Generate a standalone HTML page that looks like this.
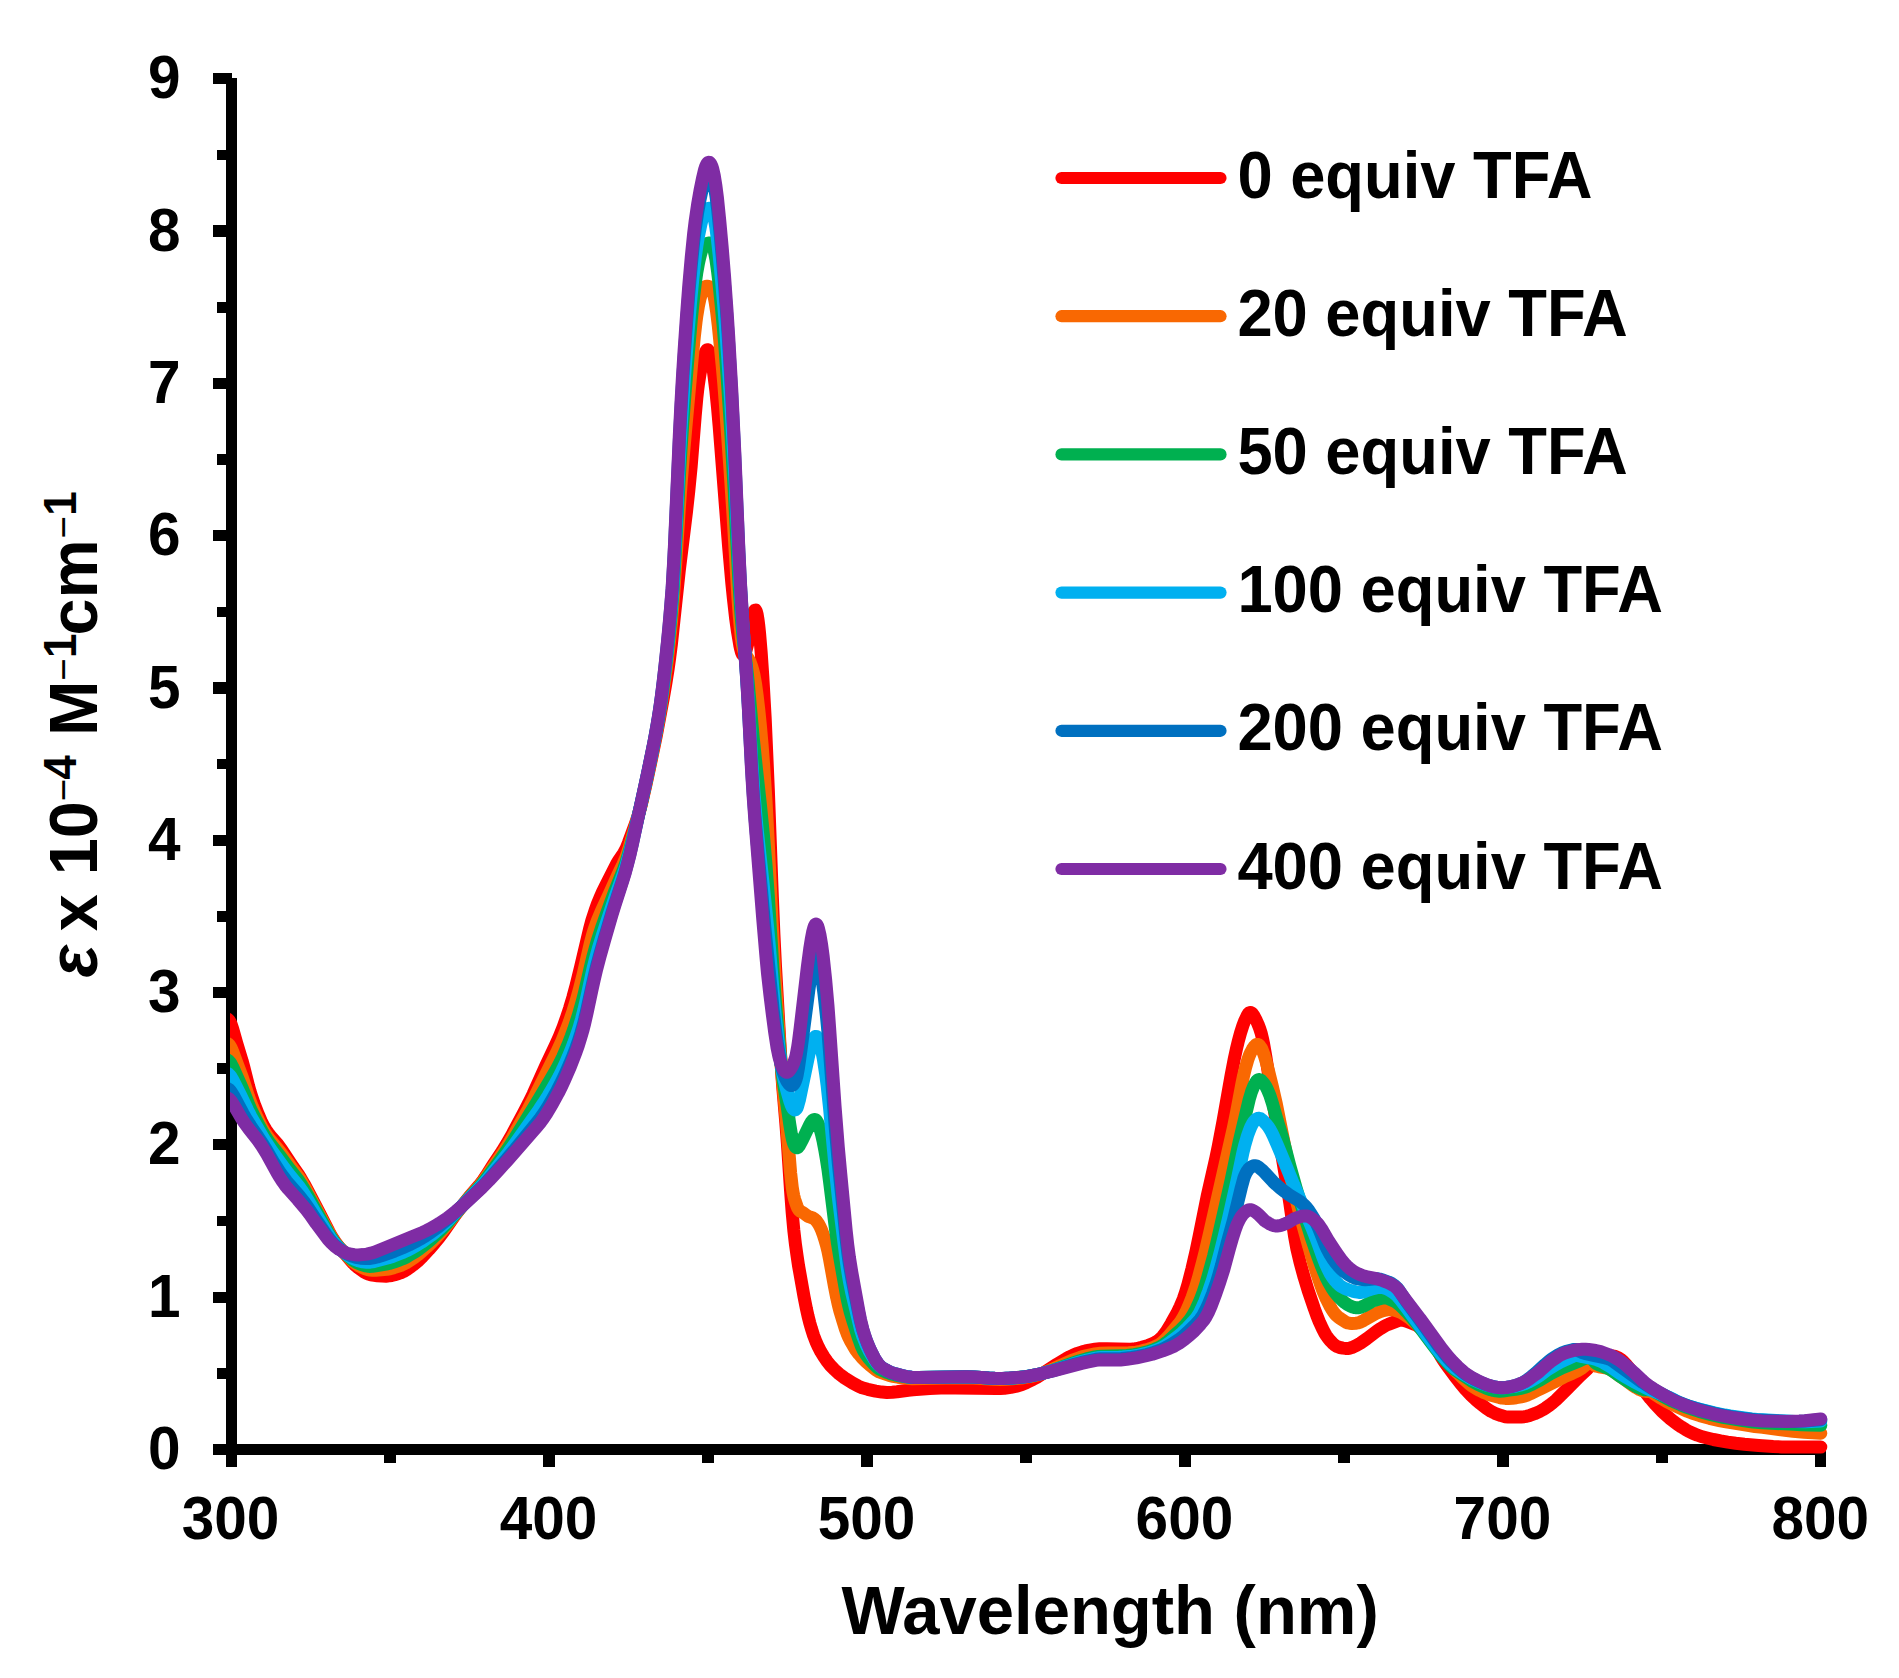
<!DOCTYPE html>
<html lang="en"><head><meta charset="utf-8"><title>UV-vis titration with TFA</title>
<style>html,body{margin:0;padding:0;background:#fff}svg{display:block}text{font-family:"Liberation Sans",sans-serif;font-weight:bold;fill:#000}</style></head><body>
<svg width="1899" height="1678" viewBox="0 0 1899 1678">
<rect width="1899" height="1678" fill="#fff"/>
<g fill="#000" shape-rendering="crispEdges">
<rect x="226" y="78" width="10.6" height="1389"/>
<rect x="212.8" y="1444" width="1613.5" height="10.8"/>
<rect x="216.8" y="1368.0" width="10" height="10.6"/>
<rect x="212.8" y="1291.5" width="19" height="11.2"/>
<rect x="216.8" y="1215.7" width="10" height="10.6"/>
<rect x="212.8" y="1139.2" width="19" height="11.2"/>
<rect x="216.8" y="1063.4" width="10" height="10.6"/>
<rect x="212.8" y="986.9" width="19" height="11.2"/>
<rect x="216.8" y="911.1" width="10" height="10.6"/>
<rect x="212.8" y="834.6" width="19" height="11.2"/>
<rect x="216.8" y="758.8" width="10" height="10.6"/>
<rect x="212.8" y="682.3" width="19" height="11.2"/>
<rect x="216.8" y="606.5" width="10" height="10.6"/>
<rect x="212.8" y="530.0" width="19" height="11.2"/>
<rect x="216.8" y="454.2" width="10" height="10.6"/>
<rect x="212.8" y="377.7" width="19" height="11.2"/>
<rect x="216.8" y="301.9" width="10" height="10.6"/>
<rect x="212.8" y="225.4" width="19" height="11.2"/>
<rect x="216.8" y="149.5" width="10" height="10.6"/>
<rect x="212.8" y="73.1" width="19" height="11.2"/>
<rect x="384.2" y="1450" width="11.6" height="12.6"/>
<rect x="543.2" y="1450" width="11.4" height="17"/>
<rect x="702.1" y="1450" width="11.6" height="12.6"/>
<rect x="861.2" y="1450" width="11.4" height="17"/>
<rect x="1020.1" y="1450" width="11.6" height="12.6"/>
<rect x="1179.1" y="1450" width="11.4" height="17"/>
<rect x="1338.0" y="1450" width="11.6" height="12.6"/>
<rect x="1497.1" y="1450" width="11.4" height="17"/>
<rect x="1656.0" y="1450" width="11.6" height="12.6"/>
<rect x="1815.0" y="1450" width="11.4" height="17"/>
</g>
<defs><clipPath id="plotclip"><rect x="230" y="0" width="1669" height="1678"/></clipPath></defs>
<g clip-path="url(#plotclip)" fill="none" stroke-width="13" stroke-linecap="round" stroke-linejoin="round">
<path d="M227.8,1019.1 228.6,1019.8 229.4,1020.8 230.2,1022.1 231.0,1023.9 232.6,1028.6 236.6,1042.7 242.1,1060.8 243.7,1066.7 248.5,1085.8 250.1,1091.5 251.7,1096.5 254.8,1105.5 258.0,1113.6 261.2,1121.0 263.6,1125.9 266.0,1129.9 268.4,1133.3 270.7,1136.2 277.1,1143.5 281.1,1148.8 292.2,1165.5 298.6,1174.7 300.9,1178.4 304.1,1183.9 308.1,1191.3 319.2,1212.6 328.8,1231.3 331.9,1237.0 335.1,1241.9 336.7,1244.1 339.1,1247.1 344.7,1253.3 351.0,1260.9 353.4,1263.5 355.0,1265.1 357.4,1267.2 360.6,1269.5 363.7,1271.7 366.1,1273.0 368.5,1274.1 370.1,1274.6 372.5,1275.1 377.3,1275.7 382.0,1276.1 386.0,1276.2 389.2,1275.9 391.6,1275.5 394.7,1274.7 398.7,1273.5 401.9,1272.3 404.3,1271.1 406.7,1269.7 409.8,1267.5 413.0,1265.1 417.8,1261.2 421.8,1257.4 428.9,1249.7 434.5,1243.2 439.3,1237.3 444.0,1231.1 455.9,1214.1 462.3,1205.6 469.5,1196.6 479.0,1185.6 483.0,1180.4 486.2,1175.7 493.3,1164.6 502.1,1151.4 506.8,1143.7 512.4,1133.9 523.5,1113.0 528.3,1103.8 533.1,1094.0 545.8,1065.6 555.3,1045.5 559.3,1036.6 563.3,1026.6 566.4,1017.8 569.6,1008.2 572.8,997.5 576.0,985.6 580.7,966.5 589.5,929.2 591.9,920.3 595.1,910.4 597.4,904.0 599.8,898.1 602.2,892.7 605.4,886.1 616.5,864.1 618.9,860.1 623.7,853.1 626.1,848.6 628.4,842.8 635.6,823.2 638.0,816.2 640.4,808.1 642.7,798.8 645.9,784.9 652.3,755.0 656.3,735.6 659.4,719.1 663.4,697.5 665.8,683.7 668.2,668.4 669.8,656.9 671.4,644.2 679.3,570.3 686.5,511.6 688.8,490.8 691.2,466.2 695.2,415.9 696.8,398.1 697.6,390.7 698.4,384.4 700.0,374.1 700.8,369.9 702.4,362.7 704.0,356.7 705.5,352.0 706.3,350.5 707.1,349.7 707.9,349.8 708.7,350.8 709.5,352.7 710.3,355.3 711.9,362.4 713.5,372.0 715.9,391.3 717.5,407.3 719.1,425.5 728.6,546.5 731.8,582.9 733.4,598.6 735.7,618.9 737.3,630.4 739.7,644.8 740.5,648.6 741.3,651.7 742.1,653.9 742.9,655.0 743.7,655.0 744.5,654.1 745.3,652.5 746.1,650.1 747.7,643.8 752.4,617.4 753.2,614.1 754.0,611.6 754.8,610.2 755.6,610.1 756.4,611.6 757.2,614.7 758.0,619.5 758.8,625.8 759.6,633.6 761.2,652.9 762.8,676.1 765.2,718.7 768.3,789.0 772.3,895.9 773.9,934.0 775.5,966.3 780.3,1050.4 781.1,1063.2 782.6,1085.3 785.8,1122.8 787.4,1143.6 790.6,1191.2 792.2,1212.8 793.8,1230.2 795.4,1243.9 797.0,1255.4 798.5,1265.5 804.1,1297.1 806.5,1309.2 808.1,1316.4 809.7,1322.7 811.3,1328.3 813.6,1335.5 816.0,1341.8 818.4,1347.1 820.8,1351.7 824.0,1356.9 827.2,1361.5 830.3,1365.4 834.3,1369.5 839.1,1373.8 844.6,1378.0 852.6,1383.1 858.2,1386.1 862.1,1387.8 867.7,1389.3 875.6,1391.1 882.0,1392.1 886.8,1392.4 892.3,1392.3 897.1,1391.8 908.2,1390.2 913.0,1389.7 929.7,1388.5 940.8,1388.0 955.1,1387.9 996.5,1388.5 1000.4,1388.4 1004.4,1388.2 1010.8,1387.3 1017.9,1385.9 1021.9,1384.6 1026.7,1382.5 1033.0,1379.4 1037.0,1377.2 1056.9,1364.2 1066.4,1358.5 1069.6,1356.8 1072.8,1355.3 1077.5,1353.4 1082.3,1351.8 1085.5,1350.9 1089.5,1350.1 1095.0,1349.3 1099.8,1348.8 1107.0,1348.8 1130.0,1349.2 1133.2,1349.1 1135.6,1348.8 1138.7,1348.1 1141.9,1347.3 1147.5,1345.6 1150.7,1344.5 1153.1,1343.4 1155.4,1342.2 1157.8,1340.8 1159.4,1339.6 1161.0,1338.1 1162.6,1336.4 1164.2,1334.4 1166.6,1331.1 1171.3,1323.3 1176.9,1313.3 1180.1,1306.6 1183.3,1298.9 1185.6,1292.2 1188.0,1284.2 1192.0,1268.5 1196.0,1251.1 1199.2,1235.9 1207.1,1196.4 1215.9,1157.8 1218.2,1146.6 1223.0,1121.3 1231.0,1076.0 1234.1,1059.7 1236.5,1048.6 1238.1,1041.9 1240.5,1033.0 1242.9,1025.5 1244.5,1021.3 1246.9,1016.2 1248.4,1013.7 1249.2,1012.9 1250.0,1012.5 1250.8,1012.5 1251.6,1013.0 1252.4,1013.7 1254.0,1016.0 1256.4,1020.6 1258.0,1024.1 1259.6,1028.3 1261.2,1033.3 1262.7,1039.6 1263.5,1043.3 1265.9,1057.0 1269.9,1082.9 1275.5,1117.3 1288.2,1192.8 1289.8,1203.0 1294.5,1236.1 1296.9,1249.0 1300.1,1262.6 1304.1,1277.2 1308.1,1290.3 1314.4,1308.9 1316.8,1315.5 1319.2,1321.5 1322.4,1328.5 1324.7,1333.0 1326.3,1335.6 1327.9,1337.9 1330.3,1340.8 1332.7,1343.3 1334.3,1344.7 1335.9,1345.9 1337.5,1346.7 1339.9,1347.5 1343.0,1348.1 1345.4,1348.4 1347.8,1348.5 1349.4,1348.3 1351.8,1347.6 1356.5,1345.4 1360.5,1343.1 1366.9,1338.6 1376.4,1331.4 1380.4,1328.7 1383.6,1326.7 1386.0,1325.4 1388.3,1324.4 1398.7,1320.4 1401.1,1320.1 1402.6,1320.2 1404.2,1320.5 1406.6,1321.2 1409.8,1322.5 1414.6,1324.3 1416.2,1325.0 1418.5,1326.4 1422.5,1329.5 1426.5,1333.3 1429.7,1337.0 1431.3,1339.1 1432.9,1341.6 1434.4,1344.3 1440.8,1356.3 1443.2,1360.1 1445.6,1363.6 1456.7,1378.6 1461.5,1384.7 1465.4,1389.4 1471.0,1395.3 1475.8,1399.8 1479.7,1403.2 1486.1,1408.1 1490.9,1411.3 1494.9,1413.3 1501.2,1415.6 1505.2,1416.7 1508.4,1417.1 1513.1,1417.1 1521.1,1416.9 1524.3,1416.7 1526.6,1416.3 1529.8,1415.4 1534.6,1413.7 1539.4,1411.6 1542.5,1409.9 1545.7,1407.9 1549.7,1405.1 1552.9,1402.6 1556.1,1399.9 1567.2,1388.9 1579.9,1375.9 1587.9,1368.4 1592.6,1364.4 1595.8,1362.1 1599.0,1360.0 1601.4,1358.7 1603.7,1357.6 1606.9,1356.6 1609.3,1356.0 1611.7,1355.9 1613.3,1356.0 1614.9,1356.4 1617.3,1357.3 1618.9,1358.1 1620.4,1359.1 1622.8,1361.1 1626.8,1365.3 1630.0,1369.2 1633.2,1373.5 1642.7,1388.2 1646.7,1393.9 1650.6,1398.9 1654.6,1403.6 1658.6,1407.9 1661.8,1411.2 1665.7,1414.9 1669.7,1418.3 1673.7,1421.5 1677.7,1424.4 1681.6,1427.1 1685.6,1429.6 1688.8,1431.4 1692.8,1433.2 1697.5,1435.2 1702.3,1436.8 1707.1,1438.0 1713.4,1439.5 1720.6,1440.9 1727.7,1442.1 1735.7,1443.2 1744.4,1444.2 1758.7,1445.5 1773.1,1446.5 1781.8,1446.9 1789.7,1447.1 1820.8,1447.1" stroke="#FF0000"/>
<path d="M227.8,1043.6 228.6,1044.2 229.4,1045.1 230.2,1046.2 231.0,1047.6 232.6,1051.3 236.6,1062.2 242.1,1076.7 248.5,1096.5 250.1,1101.0 252.5,1107.1 255.6,1114.3 259.6,1122.8 262.0,1127.5 264.4,1131.7 266.8,1135.4 269.2,1138.6 277.1,1148.1 281.1,1153.1 292.2,1168.4 297.8,1175.8 300.2,1179.2 303.3,1184.5 306.5,1190.2 328.0,1231.0 331.9,1237.8 335.1,1242.6 337.5,1245.6 339.9,1248.3 350.2,1258.9 353.4,1262.0 355.8,1263.8 358.2,1265.4 362.2,1267.5 365.3,1268.9 367.7,1269.7 370.1,1270.1 372.5,1270.3 375.7,1270.2 386.8,1269.3 390.0,1268.8 393.9,1267.7 401.1,1265.3 403.5,1264.2 405.9,1263.0 409.8,1260.5 414.6,1257.3 417.8,1254.9 421.0,1252.3 426.5,1247.3 431.3,1242.7 435.3,1238.6 440.1,1233.4 445.6,1226.8 456.7,1212.5 464.7,1202.8 470.3,1196.2 477.4,1188.4 480.6,1184.6 483.8,1180.5 486.9,1176.0 502.1,1154.0 506.8,1146.8 512.4,1137.5 523.5,1117.8 528.3,1109.1 533.8,1098.5 556.9,1052.0 561.7,1041.4 566.4,1029.8 569.6,1021.2 572.8,1011.7 576.0,1001.3 579.2,990.1 583.1,974.6 590.3,943.4 592.7,934.3 594.3,929.1 597.4,920.5 601.4,911.0 610.2,892.0 617.3,876.1 622.9,864.5 626.1,856.9 629.2,847.4 634.0,831.2 638.0,816.7 642.0,800.9 645.9,783.3 651.5,756.9 655.5,737.2 658.6,719.9 661.0,705.5 664.2,683.9 666.6,665.9 669.0,645.9 671.4,622.9 673.7,594.1 679.3,508.3 680.9,486.2 683.3,456.3 685.7,429.1 692.0,360.2 694.4,336.0 696.0,322.0 696.8,316.0 698.4,306.1 700.0,298.7 701.6,293.2 703.2,289.4 704.0,288.1 704.7,287.1 705.5,286.5 706.3,286.3 707.1,286.3 708.7,286.5 709.5,286.7 710.3,287.2 711.1,288.1 711.9,289.4 712.7,291.4 713.5,294.0 714.3,297.5 715.1,301.7 716.7,312.4 718.3,325.7 719.8,340.8 722.2,365.6 723.8,383.8 725.4,404.2 730.2,472.4 732.6,508.4 738.1,599.8 739.7,621.0 741.3,637.0 742.1,642.8 742.9,647.1 743.7,650.3 744.5,652.5 745.3,654.1 748.5,659.0 750.1,662.1 751.6,666.2 752.4,668.8 754.0,675.2 755.6,684.2 757.2,696.0 758.8,709.9 760.4,725.8 762.0,743.9 763.6,764.5 766.0,800.8 768.3,843.0 772.3,926.3 773.9,956.9 775.5,983.3 779.5,1041.5 781.8,1073.3 786.6,1123.9 790.6,1172.6 792.2,1186.9 793.0,1192.0 793.8,1196.0 794.6,1199.2 795.4,1201.8 797.0,1206.3 797.7,1208.0 798.5,1209.4 799.3,1210.4 800.1,1211.1 803.3,1212.9 807.3,1215.9 808.9,1216.7 812.8,1218.0 814.4,1219.0 815.2,1219.6 816.8,1221.4 818.4,1223.7 820.0,1226.6 821.6,1230.2 823.2,1234.5 824.8,1239.4 826.4,1245.0 828.0,1251.4 829.5,1259.0 834.3,1285.5 836.7,1297.7 838.3,1304.9 839.9,1311.1 843.1,1321.7 845.4,1329.0 847.0,1333.4 848.6,1337.2 850.2,1340.5 853.4,1346.1 855.8,1350.0 859.0,1354.2 862.1,1357.9 866.1,1361.8 869.3,1364.6 875.6,1369.7 878.8,1371.7 880.4,1372.4 889.2,1375.4 893.1,1376.3 897.9,1377.2 906.6,1378.3 912.2,1378.7 945.6,1378.1 965.5,1377.9 973.4,1378.1 994.1,1379.3 1000.4,1379.4 1006.0,1379.2 1015.5,1378.6 1023.5,1377.7 1031.4,1376.4 1038.6,1374.7 1043.4,1373.1 1048.9,1370.9 1060.1,1365.6 1071.2,1360.7 1079.9,1357.5 1083.9,1356.3 1087.1,1355.5 1095.0,1353.9 1100.6,1353.2 1108.5,1353.0 1128.4,1352.8 1133.2,1352.6 1136.4,1352.1 1140.3,1351.3 1145.9,1349.9 1149.1,1349.0 1152.3,1347.9 1155.4,1346.6 1157.8,1345.4 1160.2,1343.9 1161.8,1342.8 1165.0,1339.9 1169.0,1335.6 1178.5,1324.3 1180.9,1321.1 1182.5,1318.6 1185.6,1312.8 1188.8,1305.7 1192.0,1297.7 1195.2,1288.5 1198.4,1277.8 1202.3,1263.1 1205.5,1250.5 1209.5,1233.5 1233.3,1128.1 1236.5,1112.5 1242.1,1082.8 1243.7,1075.2 1245.3,1068.6 1247.6,1060.4 1249.2,1055.9 1250.8,1052.2 1252.4,1049.2 1254.0,1046.8 1255.6,1045.1 1256.4,1044.6 1257.2,1044.4 1258.0,1044.5 1258.8,1044.9 1259.6,1045.6 1261.2,1047.9 1262.0,1049.4 1262.7,1051.1 1264.3,1055.5 1265.9,1060.9 1267.5,1066.8 1272.3,1086.3 1276.3,1103.8 1288.2,1163.6 1291.4,1178.8 1293.7,1189.4 1297.7,1205.7 1301.7,1220.9 1308.1,1244.0 1313.6,1263.2 1316.8,1273.3 1320.8,1285.2 1323.2,1291.6 1326.3,1298.9 1330.3,1306.8 1331.9,1309.5 1333.5,1311.9 1335.1,1314.0 1336.7,1315.7 1338.3,1317.1 1339.9,1318.3 1345.4,1321.9 1347.8,1322.9 1349.4,1323.2 1351.8,1323.4 1355.7,1323.2 1358.1,1322.9 1360.5,1322.1 1363.7,1320.4 1375.6,1313.6 1380.4,1311.5 1383.6,1310.5 1388.3,1309.7 1390.7,1309.7 1392.3,1309.8 1394.7,1310.2 1397.1,1310.9 1401.1,1312.6 1405.0,1314.8 1409.0,1317.6 1417.0,1324.5 1422.5,1329.9 1424.9,1332.5 1428.1,1336.4 1442.4,1355.6 1449.5,1364.5 1453.5,1368.9 1457.5,1372.9 1463.1,1378.2 1468.6,1383.3 1471.8,1385.7 1475.8,1388.3 1479.7,1390.5 1484.5,1392.8 1487.7,1394.1 1490.1,1395.0 1499.6,1397.6 1502.0,1398.1 1505.2,1398.4 1508.4,1398.4 1512.3,1398.2 1516.3,1397.7 1521.1,1396.8 1524.3,1396.1 1527.4,1395.0 1530.6,1393.6 1537.0,1390.4 1542.5,1387.8 1554.5,1381.9 1564.8,1376.4 1572.0,1373.4 1578.3,1370.3 1579.9,1369.4 1581.5,1368.3 1587.9,1363.2 1589.4,1362.4 1590.2,1362.3 1591.0,1362.5 1591.8,1363.0 1594.2,1364.9 1595.0,1365.5 1596.6,1366.2 1599.0,1366.8 1606.9,1368.2 1609.3,1368.9 1610.9,1369.7 1613.3,1371.2 1618.1,1374.8 1624.4,1379.2 1633.2,1385.7 1636.3,1387.7 1639.5,1389.5 1641.9,1390.5 1644.3,1391.1 1645.9,1391.4 1649.9,1391.5 1651.4,1392.0 1661.0,1398.2 1666.5,1401.5 1670.5,1403.6 1682.4,1409.1 1687.2,1411.2 1693.6,1413.6 1699.9,1415.7 1709.5,1418.3 1720.6,1420.8 1727.7,1422.2 1749.2,1425.7 1754.8,1426.5 1762.7,1427.3 1781.0,1429.8 1792.9,1431.2 1804.1,1432.2 1820.8,1433.2" stroke="#F96802"/>
<path d="M227.8,1060.2 228.6,1060.7 230.2,1062.5 231.0,1063.7 232.6,1066.7 242.1,1087.8 248.5,1104.0 250.9,1109.6 255.6,1119.2 262.8,1132.5 266.0,1137.6 269.9,1143.3 279.5,1155.5 289.8,1169.3 298.6,1180.5 300.9,1184.0 304.1,1189.2 307.3,1194.7 327.2,1231.0 330.4,1236.4 332.7,1240.0 335.9,1244.2 339.9,1248.5 348.6,1256.6 351.0,1258.7 353.4,1260.5 356.6,1262.5 361.4,1264.6 365.3,1265.8 367.7,1266.2 369.3,1266.4 372.5,1266.3 375.7,1265.9 386.0,1264.1 389.2,1263.4 393.9,1262.0 399.5,1260.1 402.7,1258.8 405.9,1257.3 409.8,1255.0 415.4,1251.6 419.4,1248.8 423.4,1245.8 428.1,1241.9 432.1,1238.5 436.9,1234.0 441.6,1229.2 447.2,1223.2 456.7,1212.1 467.1,1200.4 478.2,1188.4 481.4,1184.8 486.2,1178.8 501.3,1158.3 507.6,1149.3 514.8,1138.2 537.0,1102.2 549.7,1080.9 556.9,1068.4 560.1,1062.3 562.5,1057.4 564.8,1052.1 568.0,1044.5 571.2,1036.3 573.6,1029.7 578.4,1015.1 582.3,1001.3 584.7,991.8 590.3,967.4 592.7,957.5 595.1,948.6 597.4,940.6 601.4,928.3 606.2,914.8 614.9,890.8 623.7,868.8 626.1,862.1 627.6,857.1 630.0,848.7 633.2,836.6 637.2,820.4 642.0,800.2 648.3,771.2 655.5,735.9 657.8,722.8 659.4,713.2 661.0,702.8 663.4,685.4 667.4,652.3 669.8,629.4 671.4,612.2 673.0,591.8 673.7,579.8 675.3,552.1 679.3,477.4 680.9,451.1 682.5,427.3 684.9,395.1 688.1,356.5 691.2,320.8 693.6,297.2 695.2,283.9 696.8,272.6 698.4,263.6 699.2,259.8 700.8,253.5 701.6,250.9 703.2,247.0 704.0,245.5 704.7,244.5 705.5,243.9 706.3,243.6 709.5,243.0 710.3,243.0 711.1,243.4 711.9,244.3 712.7,245.8 713.5,248.0 714.3,251.0 715.9,259.4 717.5,270.8 719.1,284.3 721.4,307.2 723.0,324.1 724.6,343.0 727.0,375.1 731.0,435.5 734.2,490.7 738.9,582.2 740.5,607.5 741.3,618.1 742.9,635.5 747.7,677.3 753.2,737.5 756.4,768.4 760.4,804.6 763.6,837.1 766.0,864.8 768.3,895.8 773.1,970.8 775.5,1003.2 777.9,1030.5 780.3,1056.0 781.8,1070.4 783.4,1082.1 786.6,1102.6 789.8,1124.5 791.4,1134.3 792.2,1138.3 793.0,1141.5 793.8,1143.9 794.6,1145.7 795.4,1146.9 796.2,1147.6 797.0,1147.8 797.7,1147.5 798.5,1146.8 799.3,1145.7 802.5,1139.7 809.7,1124.7 811.3,1122.0 812.1,1121.0 812.8,1120.2 813.6,1119.7 814.4,1119.5 815.2,1119.6 816.0,1120.1 816.8,1121.1 817.6,1122.5 818.4,1124.2 820.0,1128.7 821.6,1134.5 823.2,1141.7 824.8,1150.1 826.4,1159.4 828.0,1169.8 829.5,1181.2 835.1,1226.2 837.5,1243.5 839.9,1258.2 845.4,1289.5 847.0,1298.1 848.6,1305.5 850.2,1311.8 852.6,1319.9 859.0,1339.7 861.3,1346.2 863.7,1351.0 866.1,1354.8 869.3,1359.0 874.1,1364.4 877.2,1367.5 879.6,1369.2 881.2,1370.0 887.6,1372.7 891.5,1374.0 895.5,1375.0 904.3,1376.6 909.0,1377.3 912.2,1377.5 917.8,1377.5 951.2,1376.9 966.3,1376.8 973.4,1377.0 989.3,1378.1 995.7,1378.4 1003.6,1378.4 1012.4,1377.9 1021.9,1377.1 1027.5,1376.4 1035.4,1375.0 1041.8,1373.5 1046.5,1372.3 1051.3,1370.8 1070.4,1363.9 1079.9,1360.7 1086.3,1358.9 1095.0,1356.9 1098.2,1356.4 1101.4,1356.2 1120.5,1355.7 1126.8,1355.4 1134.0,1354.7 1139.5,1353.7 1148.3,1351.5 1151.5,1350.5 1154.6,1349.3 1159.4,1347.2 1161.8,1345.8 1164.2,1344.2 1168.2,1341.0 1173.7,1335.9 1180.9,1329.6 1185.6,1324.7 1189.6,1320.0 1192.8,1315.2 1196.0,1309.3 1200.0,1300.5 1203.1,1292.3 1205.5,1285.0 1207.9,1276.7 1213.5,1256.4 1216.6,1243.8 1231.0,1180.8 1238.9,1143.1 1249.2,1099.5 1251.6,1091.5 1254.0,1085.5 1255.6,1082.5 1256.4,1081.3 1257.2,1080.4 1258.0,1079.8 1258.8,1079.5 1259.6,1079.6 1260.4,1079.9 1261.2,1080.5 1262.7,1082.1 1264.3,1084.1 1265.9,1086.6 1267.5,1089.7 1269.9,1095.4 1272.3,1102.9 1277.1,1120.0 1282.6,1138.0 1289.8,1165.6 1296.1,1188.0 1304.9,1217.4 1311.2,1237.4 1317.6,1255.9 1321.6,1266.6 1324.0,1272.5 1326.3,1277.8 1328.7,1282.5 1331.9,1288.1 1334.3,1291.7 1336.7,1294.7 1339.1,1297.4 1342.2,1300.5 1344.6,1302.5 1347.8,1304.8 1350.2,1306.0 1352.6,1307.0 1355.0,1307.6 1356.5,1307.8 1358.1,1307.7 1359.7,1307.5 1361.3,1307.1 1363.7,1306.1 1370.9,1302.0 1374.0,1300.5 1378.0,1299.2 1382.0,1298.2 1384.4,1297.8 1386.0,1297.8 1386.7,1297.9 1388.3,1298.5 1393.9,1301.0 1396.3,1302.4 1399.5,1304.9 1404.2,1309.4 1408.2,1313.6 1413.0,1319.0 1417.0,1323.8 1421.7,1330.0 1432.9,1345.0 1439.2,1353.3 1443.2,1358.2 1448.0,1363.5 1451.9,1367.3 1455.1,1369.9 1472.6,1381.6 1478.2,1384.6 1486.1,1388.1 1490.9,1389.8 1493.3,1390.4 1495.6,1390.8 1499.6,1391.2 1502.8,1391.1 1509.2,1390.1 1515.5,1389.4 1519.5,1388.7 1525.1,1387.3 1527.4,1386.4 1530.6,1384.9 1540.2,1379.9 1550.5,1373.6 1562.4,1367.6 1579.9,1360.6 1587.1,1357.3 1588.6,1356.9 1589.4,1356.8 1590.2,1357.0 1591.0,1357.5 1591.8,1358.4 1594.2,1361.5 1595.0,1362.4 1596.6,1363.7 1598.2,1364.5 1599.8,1365.2 1606.9,1367.8 1610.1,1369.4 1612.5,1370.9 1618.9,1375.5 1630.8,1383.3 1634.0,1385.3 1637.1,1387.1 1641.1,1388.8 1644.3,1389.7 1646.7,1389.8 1649.9,1389.3 1650.6,1389.4 1651.4,1389.6 1653.0,1390.4 1657.8,1393.4 1664.2,1397.0 1668.9,1399.5 1672.1,1401.1 1680.9,1404.9 1686.4,1407.1 1692.8,1409.4 1699.1,1411.4 1711.1,1414.6 1723.0,1417.3 1742.9,1420.6 1753.2,1422.1 1761.9,1422.8 1776.2,1423.5 1789.7,1424.0 1801.7,1424.8 1809.6,1425.1 1820.8,1425.3" stroke="#00B050"/>
<path d="M227.8,1073.6 228.6,1074.1 230.2,1075.8 231.0,1076.8 232.6,1079.5 241.3,1096.7 247.7,1110.3 250.9,1116.7 254.1,1122.3 264.4,1139.7 271.5,1150.6 281.1,1163.9 288.2,1173.3 298.6,1186.0 301.7,1190.4 304.9,1195.3 308.1,1200.5 314.5,1211.5 327.2,1233.0 329.6,1236.8 331.9,1240.2 335.1,1244.1 339.1,1248.2 341.5,1250.3 345.5,1253.4 348.6,1255.8 351.0,1257.4 355.0,1259.5 358.2,1260.7 362.9,1261.8 366.9,1262.3 370.1,1262.2 374.1,1261.5 388.4,1257.7 393.2,1256.2 399.5,1253.8 403.5,1252.2 406.7,1250.7 411.4,1248.2 417.0,1245.1 421.8,1242.1 426.5,1238.8 431.3,1235.3 435.3,1232.1 440.1,1228.0 444.8,1223.6 450.4,1218.1 481.4,1186.1 487.7,1178.7 503.6,1158.9 508.4,1152.7 513.2,1146.2 539.4,1109.2 543.4,1103.2 548.2,1095.6 552.1,1088.9 556.1,1082.0 559.3,1076.1 562.5,1069.7 565.6,1062.9 568.0,1057.4 571.2,1049.6 573.6,1043.4 576.8,1034.4 579.2,1027.2 581.5,1019.2 583.9,1010.0 586.3,999.6 592.7,970.0 595.1,960.3 598.2,949.0 603.0,933.4 611.0,909.0 615.7,895.0 623.7,872.8 626.1,865.5 627.6,860.1 630.0,851.3 633.2,838.3 645.1,785.5 652.3,751.3 657.1,726.4 659.4,712.0 661.0,701.2 664.2,676.4 666.6,655.5 668.2,640.3 671.4,605.9 673.0,584.3 673.7,571.5 675.3,541.5 679.3,460.1 680.9,431.6 682.5,406.1 684.9,371.8 687.3,341.2 690.4,304.0 692.8,279.0 695.2,257.9 696.8,246.3 698.4,236.5 700.8,224.7 702.4,218.5 703.2,216.0 704.7,212.1 705.5,210.7 706.3,209.8 707.1,209.1 707.9,208.6 708.7,208.4 709.5,208.3 710.3,208.6 711.1,209.4 711.9,210.7 712.7,212.6 713.5,215.2 714.3,218.7 715.9,227.9 717.5,240.1 719.1,254.6 721.4,279.0 723.8,306.1 726.2,336.2 727.8,358.2 730.2,394.3 731.8,420.5 735.0,478.8 739.7,576.9 741.3,603.9 746.9,679.6 748.5,704.3 751.6,759.1 754.0,793.5 755.6,812.9 757.2,829.9 763.6,888.3 767.5,926.2 769.1,943.4 773.1,991.8 775.5,1017.5 778.7,1045.9 781.1,1063.8 782.6,1072.9 784.2,1080.2 786.6,1089.7 789.8,1101.0 791.4,1105.6 792.2,1107.3 793.0,1108.6 793.8,1109.5 794.6,1109.9 795.4,1109.7 796.2,1109.1 797.0,1107.9 797.7,1106.0 799.3,1100.3 808.9,1054.5 810.5,1047.8 812.1,1042.4 813.6,1038.6 814.4,1037.3 815.2,1036.6 816.0,1036.4 816.8,1036.7 817.6,1037.6 818.4,1039.1 819.2,1041.0 820.0,1043.4 821.6,1049.7 823.2,1058.1 825.6,1073.7 827.2,1086.0 829.5,1107.5 835.1,1166.8 838.3,1197.0 846.2,1260.5 847.8,1271.7 849.4,1281.2 851.8,1292.9 859.0,1323.1 860.5,1329.2 862.9,1336.7 866.1,1344.7 869.3,1351.2 871.7,1355.3 874.1,1359.2 876.4,1362.6 878.0,1364.5 880.4,1366.7 882.8,1368.3 887.6,1370.9 891.5,1372.6 896.3,1374.1 902.7,1375.7 907.4,1376.8 911.4,1377.3 914.6,1377.5 918.6,1377.5 951.2,1376.9 966.3,1376.8 973.4,1377.0 989.3,1378.1 995.7,1378.4 1002.8,1378.4 1011.6,1378.0 1021.1,1377.2 1025.9,1376.6 1032.2,1375.5 1042.6,1373.3 1052.1,1370.8 1072.8,1364.1 1081.5,1361.5 1087.1,1360.0 1095.8,1358.1 1098.2,1357.8 1101.4,1357.6 1118.9,1357.2 1122.8,1357.0 1132.4,1356.1 1138.7,1355.1 1148.3,1352.8 1154.6,1350.7 1160.2,1348.4 1162.6,1347.2 1165.8,1345.3 1170.5,1341.9 1178.5,1335.8 1181.7,1333.2 1187.2,1328.0 1194.4,1320.3 1196.8,1317.3 1199.2,1313.6 1201.5,1308.8 1204.7,1301.5 1208.7,1291.1 1212.7,1279.2 1216.6,1265.8 1220.6,1250.9 1224.6,1234.9 1228.6,1218.0 1237.3,1179.4 1242.9,1152.6 1244.5,1146.1 1246.1,1140.4 1247.6,1135.4 1249.2,1131.0 1250.8,1127.0 1252.4,1123.8 1254.0,1121.4 1255.6,1119.7 1257.2,1118.6 1258.0,1118.4 1258.8,1118.3 1259.6,1118.4 1260.4,1118.7 1262.0,1119.8 1263.5,1121.2 1265.9,1123.8 1268.3,1126.8 1269.9,1129.3 1271.5,1132.1 1273.1,1135.4 1277.9,1146.3 1285.8,1165.2 1293.7,1184.7 1302.5,1205.0 1312.0,1227.9 1316.8,1240.1 1322.4,1255.9 1325.5,1263.8 1327.9,1269.1 1330.3,1273.8 1332.7,1277.6 1335.1,1280.7 1337.5,1283.3 1339.1,1284.8 1340.6,1286.1 1343.0,1287.5 1345.4,1288.7 1347.8,1289.6 1352.6,1291.1 1355.7,1291.9 1358.9,1292.4 1360.5,1292.4 1362.1,1292.3 1363.7,1291.9 1367.7,1290.3 1370.9,1289.3 1378.0,1287.5 1380.4,1287.2 1382.8,1287.5 1386.0,1288.5 1389.9,1290.4 1393.1,1292.4 1395.5,1294.3 1397.1,1295.8 1401.1,1300.5 1406.6,1307.8 1415.4,1320.0 1436.0,1347.7 1441.6,1354.8 1446.4,1360.2 1451.1,1365.1 1453.5,1367.1 1456.7,1369.6 1463.1,1373.8 1472.6,1379.3 1478.2,1382.0 1486.1,1385.0 1490.9,1386.3 1497.2,1387.4 1500.4,1387.8 1503.6,1387.7 1513.1,1386.6 1517.1,1385.8 1521.9,1384.6 1525.1,1383.6 1528.2,1382.2 1531.4,1380.5 1536.2,1377.8 1539.4,1375.8 1547.3,1369.9 1550.5,1367.8 1556.9,1364.0 1560.8,1361.9 1573.5,1356.1 1575.1,1355.6 1575.9,1355.5 1577.5,1355.5 1582.3,1356.7 1590.2,1358.0 1593.4,1358.7 1596.6,1359.6 1599.8,1360.8 1603.7,1362.8 1609.3,1366.0 1612.5,1368.1 1619.6,1373.2 1626.8,1377.6 1635.5,1382.5 1645.1,1387.5 1652.2,1390.7 1665.0,1395.7 1669.7,1397.7 1673.7,1399.6 1678.5,1402.4 1680.9,1403.5 1688.0,1406.0 1696.0,1408.3 1714.2,1412.8 1724.6,1415.0 1730.1,1416.0 1738.9,1417.3 1751.6,1419.0 1757.2,1419.5 1776.2,1420.6 1795.3,1421.6 1805.6,1421.7 1820.8,1421.1" stroke="#00B0F0"/>
<path d="M227.8,1088.6 229.4,1089.8 230.2,1090.6 231.8,1092.8 233.4,1095.4 242.9,1113.1 246.9,1120.1 250.9,1126.3 258.0,1136.7 262.8,1144.1 266.8,1150.5 273.9,1162.7 279.5,1171.5 282.7,1176.0 286.6,1181.2 298.6,1195.0 304.9,1203.1 308.9,1208.7 315.3,1218.5 326.4,1235.0 330.4,1240.3 334.3,1244.7 338.3,1248.2 342.3,1251.1 347.8,1254.3 351.8,1256.1 355.8,1257.3 360.6,1258.2 366.1,1258.6 369.3,1258.5 373.3,1257.9 377.3,1257.0 381.2,1255.8 389.2,1253.1 394.7,1251.1 402.7,1247.8 409.1,1244.9 415.4,1241.7 420.2,1239.1 424.2,1236.7 428.9,1233.6 433.7,1230.2 438.5,1226.7 444.0,1222.2 448.8,1218.2 462.3,1205.9 481.4,1187.4 486.2,1182.4 490.9,1177.2 506.8,1159.0 525.1,1137.0 536.2,1123.3 540.2,1118.2 544.2,1112.5 548.2,1106.2 552.1,1099.4 556.9,1090.8 560.1,1084.6 564.1,1076.4 569.6,1063.9 572.8,1056.1 576.0,1047.7 578.4,1040.9 580.7,1033.6 583.1,1025.3 584.7,1019.1 587.1,1008.8 591.9,986.5 594.3,975.9 596.6,966.3 599.8,954.4 604.6,937.6 611.7,913.6 614.9,903.5 622.9,879.2 625.3,871.5 627.6,863.1 630.0,853.8 632.4,843.5 647.5,773.9 653.9,742.7 657.8,720.9 660.2,705.4 661.8,693.6 663.4,680.6 665.8,659.3 668.2,635.8 669.8,618.6 672.2,589.0 673.7,563.1 674.5,547.6 679.3,441.8 680.9,410.8 682.5,383.1 684.1,358.0 686.5,324.0 688.8,293.6 691.2,266.1 693.6,242.5 695.2,229.3 697.6,212.9 700.0,199.5 702.4,188.5 704.0,182.6 704.7,180.2 705.5,178.4 706.3,176.9 707.1,175.8 707.9,175.0 708.7,174.6 709.5,174.6 710.3,175.1 711.1,176.0 711.9,177.5 712.7,179.7 713.5,182.5 714.3,186.2 715.9,195.7 717.5,208.1 719.8,230.7 722.2,256.5 724.6,285.5 727.0,318.2 728.6,342.3 731.8,396.8 734.2,444.0 738.9,552.8 740.5,585.3 742.1,612.1 746.1,669.8 747.7,694.9 751.6,767.9 753.2,793.2 754.8,814.8 756.4,834.1 765.2,930.9 773.1,1009.0 775.5,1029.8 777.1,1041.6 779.5,1056.3 781.1,1064.1 782.6,1070.2 783.4,1072.7 785.0,1077.0 786.6,1080.6 787.4,1082.0 789.0,1084.2 789.8,1084.9 790.6,1085.4 791.4,1085.6 792.2,1085.5 793.0,1085.0 793.8,1084.1 794.6,1082.9 795.4,1081.1 796.2,1078.8 797.0,1075.8 798.5,1067.6 800.9,1050.7 808.9,989.7 810.5,978.9 812.1,969.9 813.6,962.9 814.4,960.4 815.2,958.6 816.0,957.9 816.8,958.1 817.6,959.3 818.4,961.3 819.2,964.1 820.8,971.5 822.4,981.4 824.0,993.8 826.4,1015.7 828.0,1032.6 829.5,1051.5 835.1,1125.7 838.3,1163.1 846.2,1239.7 847.8,1253.1 849.4,1264.4 851.8,1278.2 858.2,1310.4 860.5,1321.4 862.9,1330.2 866.1,1339.7 867.7,1343.8 870.1,1349.4 872.5,1354.3 874.8,1358.7 877.2,1362.5 878.8,1364.6 881.2,1367.0 883.6,1368.7 886.8,1370.5 890.7,1372.3 895.5,1373.9 901.1,1375.4 906.6,1376.6 911.4,1377.3 914.6,1377.5 918.6,1377.5 951.2,1376.9 966.3,1376.8 974.2,1377.0 988.5,1378.0 994.9,1378.3 1002.0,1378.4 1010.0,1378.1 1018.7,1377.4 1025.1,1376.8 1029.8,1375.9 1041.8,1373.5 1052.1,1371.0 1073.6,1364.6 1081.5,1362.4 1087.1,1361.1 1095.8,1359.3 1098.2,1359.0 1100.6,1358.8 1117.3,1358.7 1121.3,1358.5 1131.6,1357.5 1138.0,1356.4 1146.7,1354.5 1153.8,1352.4 1160.2,1350.1 1163.4,1348.7 1166.6,1347.1 1171.3,1344.4 1178.5,1339.8 1183.3,1336.1 1188.8,1331.2 1195.2,1324.8 1200.0,1319.5 1201.5,1317.4 1203.1,1314.9 1205.5,1310.4 1208.7,1303.3 1212.7,1293.3 1215.9,1284.3 1219.0,1274.0 1221.4,1265.5 1227.0,1243.7 1233.3,1220.7 1241.3,1187.6 1243.7,1178.7 1244.5,1176.4 1246.1,1172.8 1246.9,1171.5 1248.4,1169.3 1250.0,1167.8 1251.6,1166.7 1253.2,1166.0 1254.8,1165.7 1256.4,1165.9 1258.0,1166.7 1259.6,1167.9 1262.0,1169.9 1265.1,1173.0 1273.1,1181.7 1276.3,1184.7 1280.2,1188.1 1285.0,1191.8 1289.0,1194.7 1292.2,1196.7 1297.7,1200.0 1300.9,1202.2 1304.1,1204.9 1306.5,1207.5 1308.9,1210.6 1311.2,1214.1 1313.6,1217.9 1316.0,1222.4 1318.4,1227.7 1325.5,1245.6 1327.1,1249.0 1329.5,1253.5 1332.7,1258.7 1335.1,1262.1 1338.3,1266.0 1341.4,1269.3 1344.6,1272.0 1347.8,1274.3 1352.6,1277.1 1355.7,1278.4 1359.7,1279.2 1365.3,1279.7 1368.5,1279.6 1375.6,1278.8 1377.2,1278.8 1379.6,1279.1 1383.6,1280.2 1388.3,1282.0 1391.5,1283.5 1394.7,1285.6 1397.1,1287.9 1398.7,1289.9 1406.6,1301.8 1423.3,1324.7 1432.9,1338.2 1438.4,1345.9 1443.2,1352.1 1448.7,1358.8 1451.9,1362.2 1455.9,1366.1 1459.9,1369.7 1463.9,1372.9 1467.0,1375.1 1471.8,1378.0 1475.0,1379.7 1479.0,1381.6 1485.3,1384.3 1490.1,1385.9 1494.1,1386.9 1499.6,1387.7 1502.8,1387.8 1506.8,1387.4 1512.3,1386.3 1516.3,1385.2 1519.5,1384.0 1522.7,1382.6 1525.1,1381.3 1528.2,1379.1 1531.4,1376.6 1535.4,1373.3 1544.9,1364.6 1548.9,1361.2 1552.1,1358.8 1557.6,1355.3 1561.6,1353.1 1565.6,1351.6 1572.7,1349.7 1574.3,1349.4 1575.9,1349.4 1577.5,1350.0 1579.9,1351.5 1581.5,1352.3 1584.7,1353.4 1595.8,1356.0 1605.3,1357.9 1607.7,1358.6 1610.1,1359.5 1611.7,1360.3 1614.1,1361.9 1636.3,1378.1 1642.7,1382.6 1650.6,1387.6 1660.2,1393.1 1669.7,1398.1 1677.7,1401.8 1684.0,1404.3 1689.6,1406.3 1695.2,1408.2 1700.7,1409.8 1714.2,1413.3 1726.2,1415.8 1732.5,1416.9 1743.6,1418.5 1754.8,1419.8 1777.0,1420.9 1793.7,1421.4 1799.3,1421.3 1804.9,1421.0 1820.8,1419.7" stroke="#0070C0"/>
<path d="M227.8,1098.1 229.4,1099.2 230.2,1100.0 231.8,1101.9 234.2,1105.7 241.3,1118.0 244.5,1123.0 248.5,1128.5 258.0,1140.6 262.0,1146.3 266.8,1154.1 277.1,1173.0 279.5,1177.0 282.7,1181.8 285.8,1186.1 288.2,1189.0 297.8,1199.7 306.5,1210.0 309.7,1214.3 316.1,1223.4 328.0,1239.3 331.2,1242.8 335.1,1246.5 339.1,1249.4 342.3,1251.2 346.3,1253.0 349.4,1253.9 354.2,1254.7 358.2,1254.9 362.9,1254.6 366.9,1254.1 370.9,1253.2 374.9,1252.0 386.0,1247.4 411.4,1237.1 422.6,1232.4 426.5,1230.6 430.5,1228.5 434.5,1226.3 439.3,1223.4 447.2,1218.1 455.9,1211.3 463.1,1205.2 473.4,1195.7 482.2,1187.4 489.3,1180.2 498.1,1170.8 507.6,1160.3 535.4,1128.5 541.0,1121.8 543.4,1118.5 546.6,1113.7 552.1,1104.5 558.5,1092.7 561.7,1086.4 564.8,1079.6 570.4,1066.7 576.0,1052.2 578.4,1045.3 580.7,1037.9 583.1,1029.6 584.7,1023.3 587.1,1012.8 591.9,990.1 594.3,979.3 596.6,969.5 599.8,957.3 604.6,940.2 611.7,915.7 614.9,905.4 622.9,880.6 625.3,872.6 627.6,864.0 630.0,854.6 632.4,844.1 639.6,810.1 648.3,769.9 654.7,738.3 657.8,720.5 659.4,710.4 661.0,699.1 662.6,686.5 665.0,665.5 667.4,642.4 669.0,625.6 670.6,607.4 672.2,586.7 673.7,560.3 674.5,544.3 679.3,435.8 680.9,404.1 682.5,375.9 684.1,350.3 686.5,315.8 688.8,285.2 691.2,257.7 693.6,234.0 695.2,220.9 697.6,204.4 700.0,190.6 702.4,178.7 704.0,171.9 704.7,169.2 705.5,166.8 706.3,164.9 707.1,163.5 707.9,162.6 708.7,162.2 709.5,162.4 710.3,163.1 711.1,164.4 711.9,166.3 712.7,168.8 714.3,175.8 715.9,185.8 717.5,198.4 719.8,221.2 722.2,247.5 724.6,277.0 727.0,310.2 728.6,334.9 731.8,390.7 735.0,456.5 738.9,550.5 740.5,583.6 742.1,611.0 746.9,682.7 748.5,710.4 751.6,771.3 753.2,797.1 754.8,819.2 762.8,919.8 766.0,957.3 767.5,973.4 769.9,994.8 772.3,1014.2 774.7,1032.3 777.1,1047.9 778.7,1055.7 779.5,1058.9 781.1,1064.1 781.8,1066.2 783.4,1069.3 784.2,1070.5 785.0,1071.4 785.8,1072.0 786.6,1072.3 787.4,1072.2 788.2,1071.8 789.0,1071.1 790.6,1069.0 792.2,1066.2 793.8,1062.7 795.4,1058.0 796.2,1054.9 797.7,1046.6 798.5,1041.3 800.1,1028.6 807.3,967.3 809.7,949.1 811.3,939.1 812.8,931.3 813.6,928.3 814.4,926.0 815.2,924.5 816.0,924.0 816.8,924.5 817.6,925.9 818.4,928.3 820.0,935.0 821.6,944.5 823.2,956.7 825.6,979.2 828.0,1006.0 829.5,1026.4 835.1,1106.9 838.3,1147.3 840.7,1173.3 846.2,1230.8 847.8,1245.3 849.4,1257.4 851.8,1272.3 859.0,1311.9 860.5,1319.6 862.9,1329.3 864.5,1334.7 866.1,1339.5 867.7,1343.7 870.1,1349.4 872.5,1354.3 874.8,1358.7 877.2,1362.5 878.8,1364.6 881.2,1367.0 883.6,1368.7 886.8,1370.5 890.7,1372.3 895.5,1373.9 901.1,1375.4 906.6,1376.6 911.4,1377.3 914.6,1377.5 918.6,1377.5 951.2,1376.9 966.3,1376.8 974.2,1377.0 988.5,1378.0 994.9,1378.3 1002.0,1378.4 1009.2,1378.1 1018.7,1377.4 1025.1,1376.7 1029.1,1376.1 1040.2,1373.8 1052.1,1371.1 1081.5,1363.4 1087.1,1362.1 1095.8,1360.4 1098.2,1360.1 1100.6,1360.0 1115.7,1360.1 1120.5,1360.0 1126.8,1359.3 1136.4,1357.9 1145.1,1356.0 1152.3,1354.2 1162.6,1350.9 1169.7,1348.2 1174.5,1346.0 1179.3,1343.2 1184.1,1339.8 1189.6,1335.3 1194.4,1330.9 1200.7,1324.0 1203.9,1320.1 1206.3,1316.4 1208.7,1311.7 1211.1,1306.1 1215.9,1293.4 1219.8,1282.1 1223.8,1269.5 1229.4,1248.9 1232.5,1237.9 1234.9,1230.4 1237.3,1224.0 1239.7,1219.1 1241.3,1216.5 1242.9,1214.4 1244.5,1212.7 1246.9,1210.7 1248.4,1209.9 1250.0,1209.7 1250.8,1209.8 1252.4,1210.3 1254.0,1211.1 1256.4,1212.7 1258.8,1214.7 1263.5,1219.6 1265.1,1221.0 1266.7,1222.1 1269.1,1223.6 1271.5,1224.8 1273.9,1225.6 1275.5,1225.9 1277.1,1226.0 1278.6,1225.8 1281.0,1225.3 1283.4,1224.5 1285.8,1223.5 1288.2,1222.4 1293.0,1219.5 1295.3,1218.3 1298.5,1217.2 1301.7,1216.3 1304.9,1215.9 1307.3,1216.1 1309.6,1217.0 1312.0,1218.5 1316.0,1221.8 1317.6,1223.4 1319.2,1225.4 1321.6,1228.9 1327.9,1239.7 1335.9,1252.1 1339.1,1256.6 1342.2,1260.8 1344.6,1263.6 1347.0,1266.1 1349.4,1268.2 1352.6,1270.6 1355.7,1272.6 1358.9,1274.1 1362.9,1275.7 1366.1,1276.6 1376.4,1278.7 1379.6,1279.6 1382.8,1280.6 1386.7,1282.1 1389.9,1283.5 1393.1,1285.3 1395.5,1287.0 1397.1,1288.5 1399.5,1291.3 1405.0,1298.8 1420.1,1318.6 1441.6,1348.2 1448.0,1356.2 1452.7,1361.5 1457.5,1366.4 1461.5,1370.1 1464.6,1372.7 1467.8,1375.0 1471.8,1377.5 1476.6,1380.0 1482.9,1383.0 1488.5,1385.2 1491.7,1386.2 1494.9,1387.0 1498.8,1387.6 1502.0,1387.8 1506.0,1387.5 1510.7,1386.6 1513.9,1385.9 1517.9,1384.6 1521.9,1383.1 1525.1,1381.6 1527.4,1380.2 1530.6,1378.1 1535.4,1374.6 1539.4,1371.5 1547.3,1364.4 1550.5,1361.7 1557.6,1356.8 1560.0,1355.3 1562.4,1354.1 1564.8,1353.0 1568.0,1352.0 1572.7,1350.7 1576.7,1349.8 1579.9,1349.4 1582.3,1349.2 1585.5,1349.3 1588.6,1349.5 1595.8,1350.5 1600.6,1351.6 1604.5,1353.0 1608.5,1354.5 1611.7,1355.9 1614.1,1357.1 1619.6,1360.5 1623.6,1363.4 1626.8,1366.1 1634.0,1372.5 1641.9,1380.0 1645.1,1382.8 1649.1,1385.9 1653.8,1389.0 1668.1,1397.6 1674.5,1401.0 1680.1,1403.4 1686.4,1405.9 1692.0,1407.9 1698.3,1409.9 1704.7,1411.7 1711.9,1413.5 1719.0,1415.2 1725.4,1416.4 1731.7,1417.5 1743.6,1419.3 1750.8,1420.1 1756.4,1420.6 1761.9,1420.9 1774.6,1421.2 1786.6,1421.4 1793.7,1421.3 1799.3,1421.1 1804.9,1420.7 1820.8,1418.9" stroke="#7F2CA4"/>
</g>
<text transform="translate(164.2,1469.0) scale(1,1.04)" font-size="58.5" text-anchor="middle">0</text>
<text transform="translate(164.2,1316.7) scale(1,1.04)" font-size="58.5" text-anchor="middle">1</text>
<text transform="translate(164.2,1164.4) scale(1,1.04)" font-size="58.5" text-anchor="middle">2</text>
<text transform="translate(164.2,1012.1) scale(1,1.04)" font-size="58.5" text-anchor="middle">3</text>
<text transform="translate(164.2,859.8) scale(1,1.04)" font-size="58.5" text-anchor="middle">4</text>
<text transform="translate(164.2,707.5) scale(1,1.04)" font-size="58.5" text-anchor="middle">5</text>
<text transform="translate(164.2,555.2) scale(1,1.04)" font-size="58.5" text-anchor="middle">6</text>
<text transform="translate(164.2,402.9) scale(1,1.04)" font-size="58.5" text-anchor="middle">7</text>
<text transform="translate(164.2,250.6) scale(1,1.04)" font-size="58.5" text-anchor="middle">8</text>
<text transform="translate(164.2,98.3) scale(1,1.04)" font-size="58.5" text-anchor="middle">9</text>
<text transform="translate(230.6,1538.6) scale(1,1.04)" font-size="58.5" text-anchor="middle">300</text>
<text transform="translate(548.6,1538.6) scale(1,1.04)" font-size="58.5" text-anchor="middle">400</text>
<text transform="translate(866.5,1538.6) scale(1,1.04)" font-size="58.5" text-anchor="middle">500</text>
<text transform="translate(1184.4,1538.6) scale(1,1.04)" font-size="58.5" text-anchor="middle">600</text>
<text transform="translate(1502.4,1538.6) scale(1,1.04)" font-size="58.5" text-anchor="middle">700</text>
<text transform="translate(1820.3,1538.6) scale(1,1.04)" font-size="58.5" text-anchor="middle">800</text>
<text transform="translate(841.6,1634.2) scale(1,1.02)" font-size="67" text-anchor="start">Wavelength (nm)</text>
<g transform="translate(96.5,977) rotate(-90) scale(1,1.04)">
<text x="-0.4" y="0.0" font-size="68" font-style="italic">ε</text>
<text x="45.7" y="0.0" font-size="66.5">x</text>
<text x="101.7" y="0.0" font-size="66.5">10</text>
<text x="175.8" y="-18.9" font-size="38.5" style="font-weight:normal">−</text>
<text x="197.3" y="-20.0" font-size="44">4</text>
<text x="241.0" y="0.0" font-size="66.5">M</text>
<text x="296.3" y="-18.9" font-size="38.5" style="font-weight:normal">−</text>
<text x="319.0" y="-20.0" font-size="44">1</text>
<text x="341.6" y="0.0" font-size="66.5">cm</text>
<text x="438.5" y="-18.9" font-size="38.5" style="font-weight:normal">−</text>
<text x="461.3" y="-20.0" font-size="44">1</text>
</g>
<line x1="1061.5" y1="178.0" x2="1220.5" y2="178.0" stroke="#FF0000" stroke-width="12.2" stroke-linecap="round"/>
<text transform="translate(1237.4,197.6) scale(1,1.04)" font-size="63.3" text-anchor="start">0 equiv TFA</text>
<line x1="1061.5" y1="316.2" x2="1220.5" y2="316.2" stroke="#F96802" stroke-width="12.2" stroke-linecap="round"/>
<text transform="translate(1237.4,335.8) scale(1,1.04)" font-size="63.3" text-anchor="start">20 equiv TFA</text>
<line x1="1061.5" y1="454.4" x2="1220.5" y2="454.4" stroke="#00B050" stroke-width="12.2" stroke-linecap="round"/>
<text transform="translate(1237.4,474.0) scale(1,1.04)" font-size="63.3" text-anchor="start">50 equiv TFA</text>
<line x1="1061.5" y1="592.6" x2="1220.5" y2="592.6" stroke="#00B0F0" stroke-width="12.2" stroke-linecap="round"/>
<text transform="translate(1237.4,612.2) scale(1,1.04)" font-size="63.3" text-anchor="start">100 equiv TFA</text>
<line x1="1061.5" y1="730.8" x2="1220.5" y2="730.8" stroke="#0070C0" stroke-width="12.2" stroke-linecap="round"/>
<text transform="translate(1237.4,750.4) scale(1,1.04)" font-size="63.3" text-anchor="start">200 equiv TFA</text>
<line x1="1061.5" y1="869.0" x2="1220.5" y2="869.0" stroke="#7F2CA4" stroke-width="12.2" stroke-linecap="round"/>
<text transform="translate(1237.4,888.6) scale(1,1.04)" font-size="63.3" text-anchor="start">400 equiv TFA</text>
</svg></body></html>
